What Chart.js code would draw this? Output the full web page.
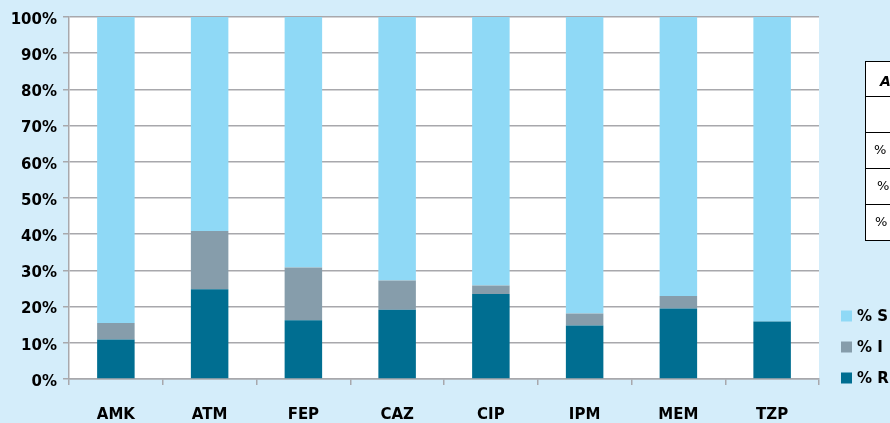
<!DOCTYPE html>
<html>
<head>
<meta charset="utf-8">
<script src="https://cdn.jsdelivr.net/npm/chart.js@4/dist/chart.umd.min.js"></script>
<style>
  html, body { margin: 0; padding: 0; background: #d4edfa; }
  #wrap { width: 890px; height: 423px; }
</style>
</head>
<body>
<div id="wrap"><canvas id="c"></canvas></div>
<script>
// susceptibility per antibiotic (% of isolates)
const categories = ["AMK", "ATM", "FEP", "CAZ", "CIP", "IPM", "MEM", "TZP"];
const pctR = [10.9, 24.8, 16.2, 19.1, 23.5, 14.8, 19.5, 15.9];
const pctI = [4.6, 16.1, 14.6, 8.1, 2.3, 3.3, 3.4, 0];
const pctS = [84.5, 59.1, 69.2, 72.8, 74.2, 81.9, 77.1, 84.1];
const yTicks = [0, 10, 20, 30, 40, 50, 60, 70, 80, 90, 100];

Chart.defaults.font.family = "'DejaVu Sans', sans-serif";
Chart.defaults.font.weight = "bold";
Chart.defaults.font.size = 15;
Chart.defaults.color = "#000";

const gridGrey = "#a8a8ac";

// white plot area on the light blue page
const plotBg = {
    id: "plotBg",
    beforeDraw(chart) {
        const a = chart.chartArea;
        const c = chart.ctx;
        c.save();
        c.fillStyle = "#fff";
        c.fillRect(a.left, a.top, a.right - a.left, a.bottom - a.top);
        c.restore();
    }
};

// legend drawn by hand, to sit where the original one is
const sideLegend = {
    id: "sideLegend",
    afterDraw(chart) {
        const c = chart.ctx;
        const sets = chart.data.datasets.slice().reverse();
        c.save();
        c.font = "bold 15px 'DejaVu Sans', sans-serif";
        c.textBaseline = "middle";
        sets.forEach((ds, i) => {
            const y = 316 + i * 31;
            c.fillStyle = ds.backgroundColor;
            c.fillRect(841, y - 5.5, 11, 11);
            c.fillStyle = "#000";
            c.fillText(ds.label, 857, y + 1);
        });
        c.restore();
    }
};

// the table at the right edge, cut off in the original
const sideTable = {
    id: "sideTable",
    afterDraw(chart) {
        const c = chart.ctx;
        const rows = [61.5, 96.5, 132.5, 168.5, 204.5, 240.5];
        c.save();
        c.fillStyle = "#fff";
        c.fillRect(865.5, 61.5, 40, 179);
        c.strokeStyle = "#000";
        c.lineWidth = 1;
        c.strokeRect(865.5, 61.5, 40, 179);
        rows.slice(1, -1).forEach(y => {
            c.beginPath();
            c.moveTo(865.5, y);
            c.lineTo(890, y);
            c.stroke();
        });
        c.fillStyle = "#000";
        c.textBaseline = "middle";
        c.font = "italic bold 14px 'DejaVu Sans', sans-serif";
        c.fillText("A", 880, 82);
        c.font = "13px 'DejaVu Sans', sans-serif";
        c.fillText("%", 874, 151);
        c.fillText("%", 877, 187);
        c.fillText("%", 875, 223);
        c.restore();
    }
};

new Chart(document.getElementById("c"), {
    type: "bar",
    data: {
        labels: categories,
        datasets: [{
            label: "% R",
            data: pctR,
            backgroundColor: "#006e91"
        }, {
            label: "% I",
            data: pctI,
            backgroundColor: "#869dab"
        }, {
            label: "% S",
            data: pctS,
            backgroundColor: "#8fd9f6"
        }]
    },
    options: {
        responsive: true,
        maintainAspectRatio: false,
        animation: false,
        layout: { padding: { top: 17, right: 71, left: 0, bottom: 0 } },
        datasets: {
            bar: { barPercentage: 0.4, categoryPercentage: 1 }
        },
        plugins: {
            legend: { display: false },
            tooltip: { enabled: false }
        },
        scales: {
            x: {
                stacked: true,
                afterFit(s) { s.height = 44; },
                grid: {
                    offset: true,
                    drawOnChartArea: false,
                    tickLength: 6,
                    color: gridGrey,
                    lineWidth: 1.5
                },
                border: { color: gridGrey, width: 1.5 },
                ticks: { padding: 21 }
            },
            y: {
                stacked: true,
                min: 0,
                max: 100,
                afterFit(s) { s.width = 69; },
                afterBuildTicks(s) { s.ticks = yTicks.map(v => ({ value: v })); },
                grid: {
                    color: gridGrey,
                    lineWidth: 1.5,
                    tickLength: 6
                },
                border: { color: gridGrey, width: 1.5 },
                ticks: {
                    padding: 6,
                    labelOffset: 3,
                    callback: v => v + "%"
                }
            }
        }
    },
    plugins: [plotBg, sideLegend, sideTable]
});
</script>
</body>
</html>
